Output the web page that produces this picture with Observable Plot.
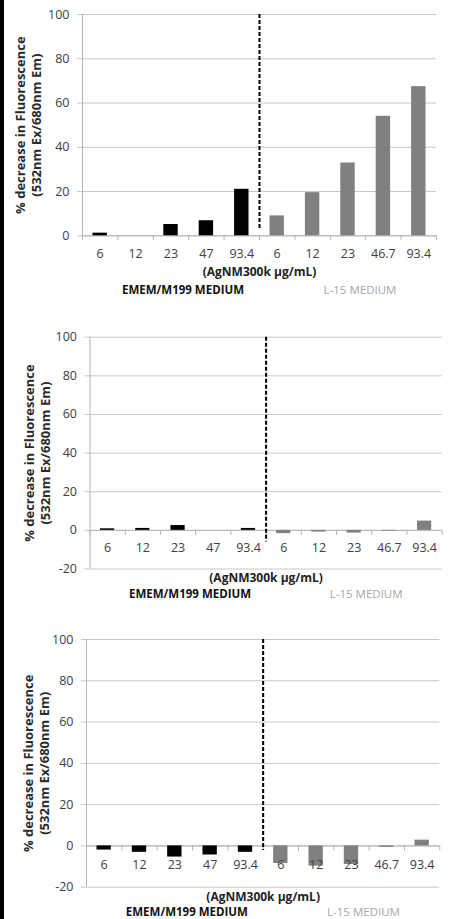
<!DOCTYPE html>
<html>
<head>
<meta charset="utf-8">
<script src="https://cdn.jsdelivr.net/npm/d3@7"></script>
<script src="https://cdn.jsdelivr.net/npm/@observablehq/plot@0.6"></script>
<style>
  html, body { margin: 0; padding: 0; background: white; }
  #wrap { position: relative; width: 449px; height: 919px; overflow: hidden; background: white; }
  .panel { position: absolute; left: 0; }
  #border { position: absolute; left: 0; top: 0; width: 4px; height: 919px; background: black; z-index: 5; }
</style>
</head>
<body>
<div id="wrap"><div id="border"></div></div>
<script>
// ---- data ----
const concEMEM = ["6", "12", "23", "47", "93.4"];
const concL15 = ["6", "12", "23", "46.7", "93.4"];
const mediumEMEM = "EMEM/M199 MEDIUM";
const mediumL15 = "L-15 MEDIUM";
const xTitle = "(AgNM300k µg/mL)";
const yTitle = "% decrease in Fluorescence\n(532nm Ex/680nm Em)";

const panel1EMEM = [1.2, 0, 5.1, 6.8, 21.0];
const panel1L15 = [9.0, 19.5, 32.9, 54.0, 67.4];
const panel2EMEM = [0.8, 1.0, 2.5, 0, 1.0];
const panel2L15 = [-1.7, -0.9, -1.4, -0.4, 4.8];
const panel3EMEM = [-2.0, -3.1, -5.4, -4.4, -3.1];
const panel3L15 = [-8.5, -9.8, -9.0, -0.7, 2.8];

const yTicks1 = [0, 20, 40, 60, 80, 100];
const yTicks2 = [-20, 0, 20, 40, 60, 80, 100];

// ---- layout / style per panel ----
const panels = [
  {emem: panel1EMEM, l15: panel1L15, ticks: yTicks1, top: 0, height: 300,
   mt: 14, mb: 64.7, ml: 82, mr: 13, divEnd: 2.4, tickDy: 18.5, titleDy: 40, medDy: 58, yDx: -54.5},
  {emem: panel2EMEM, l15: panel2L15, ticks: yTicks2, top: 300, height: 310,
   mt: 36.7, mb: 41.5, ml: 89.5, mr: 7.3, divEnd: -6, tickDy: 18, titleDy: 12.5, medDy: 28.5, yDx: -53},
  {emem: panel3EMEM, l15: panel3L15, ticks: yTicks2, top: 610, height: 309,
   mt: 29, mb: 32.3, ml: 86, mr: 9.7, divEnd: -2.2, tickDy: 19, titleDy: 13.3, medDy: 28.3, yDx: -50.5}
];

const gridColor = "#c8c8c8";
const axisColor = "#b4b4b4";
const textColor = "#404040";

function makePanel(p) {
  const nE = concEMEM.length;
  const n = nE + concL15.length;
  const rowsE = concEMEM.map((c, i) => ({i, label: c, v: p.emem[i]}));
  const rowsL = concL15.map((c, i) => ({i: i + nE, label: c, v: p.l15[i]}));
  const rows = rowsE.concat(rowsL);
  const yDomain = [d3.min(p.ticks), d3.max(p.ticks)];
  return Plot.plot({
    width: 449,
    height: p.height,
    marginTop: p.mt,
    marginBottom: p.mb,
    marginLeft: p.ml,
    marginRight: p.mr,
    style: {fontFamily: "'Open Sans', 'Noto Sans', sans-serif", fontSize: "12px", color: textColor, background: "transparent", overflow: "visible"},
    x: {domain: [0, n], axis: null},
    y: {domain: yDomain, axis: null},
    marks: [
      Plot.gridY(p.ticks, {stroke: gridColor, strokeOpacity: 1}),
      Plot.axisY(p.ticks, {tickSize: 5, tickPadding: 8, stroke: gridColor, fill: textColor, tickFormat: d => String(d), label: null, fontSize: 12.5}),
      Plot.ruleX([0], {stroke: axisColor}),
      Plot.ruleY([0], {stroke: axisColor}),
      Plot.ruleX(d3.range(n + 1), {x: d => d, y1: 0, y2: 0, insetBottom: -5, stroke: axisColor}),
      Plot.rectY(rowsE, {x1: "i", x2: d => d.i + 1, y1: 0, y2: "v", fill: "#000000", insetLeft: 10.5, insetRight: 10.5}),
      Plot.rectY(rowsL, {x1: "i", x2: d => d.i + 1, y1: 0, y2: "v", fill: "#808080", insetLeft: 10.5, insetRight: 10.5}),
      Plot.ruleX([nE], {y1: yDomain[1], y2: p.divEnd, stroke: "#000", strokeWidth: 2, strokeDasharray: "4,2"}),
      Plot.text(rows, {x: d => d.i + 0.5, y: 0, text: "label", dy: p.tickDy, fill: textColor, fontSize: 12.5}),
      Plot.text([xTitle], {frameAnchor: "bottom", dy: p.titleDy, fontWeight: "bold", fill: "#222", fontSize: 12}),
      Plot.text([mediumEMEM], {x: nE / 2, frameAnchor: "bottom", dy: p.medDy, dx: 12, fontWeight: "bold", fill: "#111", fontSize: 11.5}),
      Plot.text([mediumL15], {x: nE + concL15.length / 2, frameAnchor: "bottom", dy: p.medDy, dx: 12, fill: "#a6a6a6", fontSize: 11.5}),
      Plot.text([yTitle], {frameAnchor: "left", rotate: -90, dx: p.yDx, textAnchor: "middle", lineAnchor: "middle", fontWeight: "bold", fill: "#2a2a2a", lineHeight: 1.2, fontSize: 13})
    ]
  });
}

const wrap = document.getElementById("wrap");
panels.forEach(p => {
  const div = document.createElement("div");
  div.className = "panel";
  div.style.top = p.top + "px";
  div.appendChild(makePanel(p));
  wrap.appendChild(div);
});
</script>
</body>
</html>
